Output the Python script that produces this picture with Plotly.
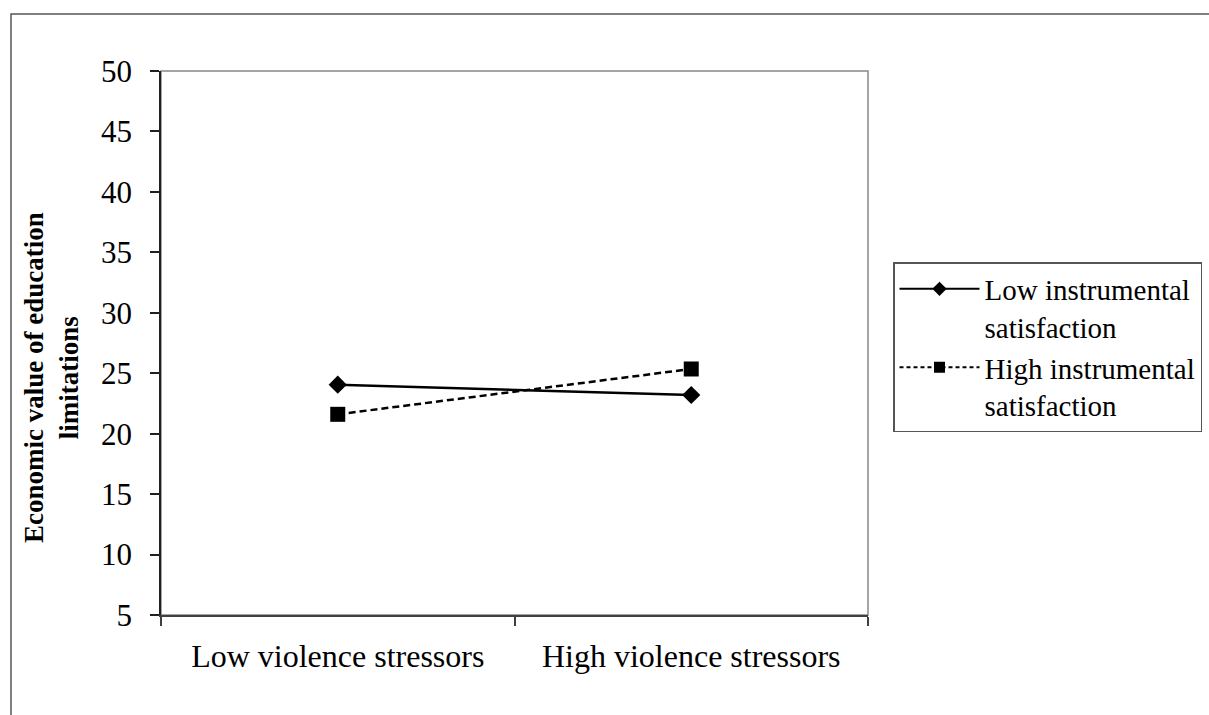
import plotly.graph_objects as go

# ---- data ----
categories = ["Low violence stressors", "High violence stressors"]
low_instrumental = [24.05, 23.2]
high_instrumental = [21.6, 25.35]
series_names = ["Low instrumental<br>satisfaction", "High instrumental<br>satisfaction"]
y_title = "Economic value of education<br>limitations"

FONT = "Liberation Serif"
W, H = 1209, 715
# plot area on screen: x 161..868, y 71..615
SL, ST, SR, SB = 161, 71, 868, 615
pw, ph = SR - SL, SB - ST
L, T = SL, ST
R, B = W - L - pw, H - T - ph

def px_x(x):
    return (x - SL) / pw

def px_y(y):
    return (SB - y) / ph

fig = go.Figure()

# data traces
fig.add_trace(go.Scatter(
    x=categories, y=low_instrumental, mode="lines+markers",
    line=dict(color="black", width=2.5),
    marker=dict(symbol="diamond", size=14, color="black"),
    showlegend=False))
fig.add_trace(go.Scatter(
    x=categories, y=high_instrumental, mode="lines+markers",
    line=dict(color="black", width=2.5, dash="7px,4px"),
    marker=dict(symbol="square", size=15, color="black"),
    showlegend=False))

# legend entries
fig.add_trace(go.Scatter(
    x=[None], y=[None], mode="lines+markers", name=series_names[0],
    line=dict(color="black", width=2),
    marker=dict(symbol="diamond", size=11, color="black")))
fig.add_trace(go.Scatter(
    x=[None], y=[None], mode="lines+markers", name=series_names[1],
    line=dict(color="black", width=2, dash="4px,3px"),
    marker=dict(symbol="square", size=11, color="black")))

fig.update_layout(
    width=W, height=H, autosize=False,
    margin=dict(l=L, r=R, t=T, b=B, pad=0, autoexpand=False),
    paper_bgcolor="white", plot_bgcolor="white",
    font=dict(family=FONT, size=30, color="black"),
    xaxis=dict(
        type="category", range=[-0.5, 1.5], tickson="boundaries",
        ticks="outside", ticklen=9, tickcolor="#404040", tickwidth=1.5,
        showline=True, linecolor="#404040", linewidth=1.5,
        showgrid=False, zeroline=False,
        tickfont=dict(family=FONT, size=32), ticklabelstandoff=12),
    yaxis=dict(
        range=[5, 50], tick0=5, dtick=5,
        ticks="outside", ticklen=9, tickcolor="#202020", tickwidth=1.5,
        showline=True, linecolor="#202020", linewidth=1.5,
        showgrid=False, zeroline=False,
        tickfont=dict(family=FONT, size=31), ticklabelstandoff=12),
    legend=dict(
        x=px_x(893), y=px_y(262), xanchor="left", yanchor="top",
        bordercolor="#555555", borderwidth=1.5, bgcolor="white",
        font=dict(family=FONT, size=29), itemwidth=80, valign="top"),
    shapes=[
        dict(type="rect", xref="paper", yref="paper", x0=0, x1=1, y0=0, y1=1,
             line=dict(color="#888888", width=1.5), layer="below"),
        dict(type="rect", xref="paper", yref="paper",
             x0=px_x(11), x1=px_x(1240), y0=px_y(740), y1=px_y(14),
             line=dict(color="#555555", width=1.5), layer="below"),
    ],
    annotations=[
        dict(text="<b>" + y_title + "</b>", xref="paper", yref="paper",
             x=px_x(51), y=px_y(378), xanchor="center", yanchor="middle",
             textangle=-90, showarrow=False,
             font=dict(family=FONT, size=27, color="black")),
    ],
)

fig.write_html("out.html",
               config={"displayModeBar": False},
               post_script="document.body.style.margin='0';document.body.style.overflow='hidden';")
